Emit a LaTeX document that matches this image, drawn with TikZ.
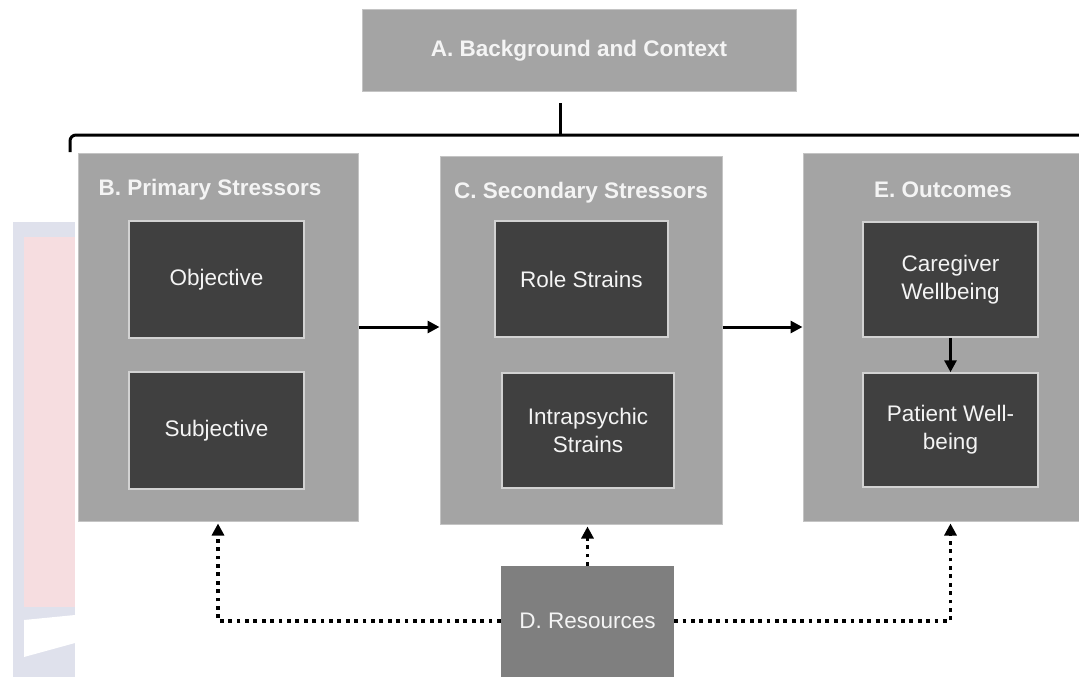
\documentclass[tikz,border=0pt]{standalone}
\usepackage{fontspec}
\setmainfont{Liberation Sans}
\usetikzlibrary{arrows.meta}
\definecolor{panel}{HTML}{A4A4A4}
\definecolor{panelrim}{HTML}{C4C4C4}
\definecolor{cell}{HTML}{404040}
\definecolor{cellrim}{HTML}{D2D2D2}
\definecolor{resfill}{HTML}{7F7F7F}
\definecolor{ink}{HTML}{F4F4F4}
\definecolor{lav}{HTML}{DFE1EC}
\definecolor{rose}{HTML}{F6DDE0}
\tikzset{
  panelbox/.style={fill=panel, draw=panelrim, line width=1pt, inner sep=0pt},
  cellbox/.style={fill=cell, draw=cellrim, line width=1.5pt, inner sep=0pt,
    text=ink, align=center, font=\fontsize{22.5}{28}\selectfont},
  heading/.style={text=ink, font=\fontsize{22.5}{28}\selectfont\bfseries},
  flow/.style={line width=3pt, -{Triangle[length=12pt,width=12pt]}},
  support/.style={line width=3.8pt, dash pattern=on 3.8pt off 4.6pt,
    -{Triangle[length=12pt,width=12pt]}, shorten >=2pt},
}
\begin{document}
\begin{tikzpicture}[x=1pt,y=-1pt]
\clip (0,0) rectangle (1079,677);
\fill[white] (0,0) rectangle (1079,677);

% faded backdrop on the left edge
\fill[lav] (13,222) rectangle (75,677);
\fill[rose] (24,237) rectangle (75,607);
\fill[white] (24,620) -- (75,615) -- (75,643) -- (24,657) -- cycle;

% top box
\node[panelbox, minimum width=434pt, minimum height=81pt] (A) at (579,50.5) {};
\node[heading] (Atxt) at (A.center) {A. Background and Context};

% bracket joining the top box to the three panels
\coordinate (braceTop) at (560,103);
\coordinate (braceMid) at (560,135);
\coordinate (braceL) at (70,152);
\coordinate (braceR) at (1090,135);
\draw[line width=3pt] (braceL) -- (70,141) arc[start angle=180, end angle=90, radius=6pt] -- (braceR);
\draw[line width=3pt] (braceTop) -- (braceMid);

% main panels
\node[panelbox, minimum width=280pt, minimum height=368pt] (B) at (218,337) {};
\node[panelbox, minimum width=282pt, minimum height=368pt] (C) at (581,340) {};
\node[panelbox, minimum width=290pt, minimum height=368pt] (E) at (948,337) {};

\node[heading] (Btxt) at (210,190) {B. Primary Stressors};
\node[heading] (Ctxt) at (581,193) {C. Secondary Stressors};
\node[heading] (Etxt) at (943,190) {E. Outcomes};

% inner cells
\node[cellbox, minimum width=175pt, minimum height=117pt] (obj) at (216.5,279.5) {Objective};
\node[cellbox, minimum width=175pt, minimum height=117pt] (subj) at (216.5,430.5) {Subjective};
\node[cellbox, minimum width=173pt, minimum height=116pt] (role) at (581.5,279) {Role Strains};
\node[cellbox, minimum width=172pt, minimum height=115pt] (intra) at (588,430.5) {Intrapsychic\\Strains};
\node[cellbox, minimum width=175pt, minimum height=115pt] (care) at (950.5,279.5) {Caregiver\\Wellbeing};
\node[cellbox, minimum width=175pt, minimum height=114pt] (pat) at (950.5,430) {Patient Well-\\being};

% resources box
\node[fill=resfill, inner sep=0pt, minimum width=173pt, minimum height=124pt] (D) at (587.5,628) {};
\node[text=ink, font=\fontsize{22.5}{28}\selectfont] (Dtxt) at (587.5,621) {D. Resources};

% solid flow arrows
\coordinate (flowY) at (0,327);
\draw[flow] (B.east |- flowY) -- (C.west |- flowY);
\draw[flow] (C.east |- flowY) -- (E.west |- flowY);
\draw[flow] (care.south) -- (pat.north);

% dotted support arrows from resources
\coordinate (dY) at (0,621);
\draw[support] (D.west |- dY) -| (B.south);
\draw[support] (D.east |- dY) -| (pat.south |- E.south);
\draw[support] (D.north) -- (D.north |- C.south);
\end{tikzpicture}
\end{document}
